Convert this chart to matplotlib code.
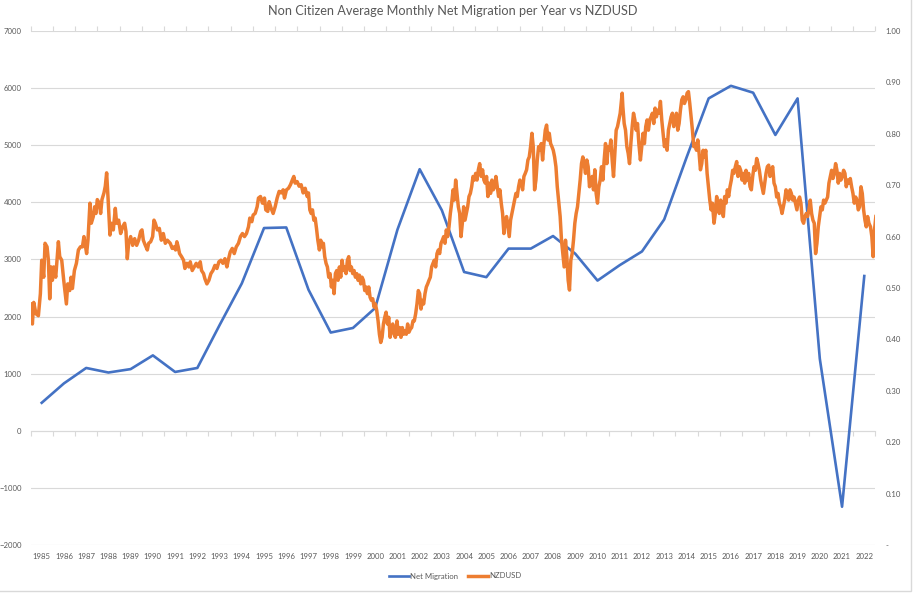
import matplotlib.pyplot as plt
import numpy as np
from matplotlib.patches import Rectangle
from matplotlib.ticker import FuncFormatter

years = [1985, 1986, 1987, 1988, 1989, 1990, 1991, 1992, 1993, 1994,
         1995, 1996, 1997, 1998, 1999, 2000, 2001, 2002, 2003, 2004,
         2005, 2006, 2007, 2008, 2009, 2010, 2011, 2012, 2013, 2014,
         2015, 2016, 2017, 2018, 2019, 2020, 2021, 2022]

net_migration = [490, 830, 1100, 1020, 1080, 1320, 1030, 1100, 1850, 2580,
                 3550, 3560, 2470, 1720, 1800, 2150, 3520, 4580, 3860, 2780,
                 2690, 3190, 3190, 3410, 3100, 2630, 2900, 3140, 3700, 4780,
                 5820, 6040, 5920, 5180, 5820, 1260, -1330, 2710]

# NZDUSD, dates on the year-category scale
nzd_dates = [
    1984.49, 1984.58, 1984.64, 1984.74, 1984.85, 1984.94, 1985.00, 1985.09, 1985.15, 1985.24,
    1985.30, 1985.36, 1985.42, 1985.48, 1985.54, 1985.63, 1985.75, 1985.81, 1985.90, 1985.99,
    1986.11, 1986.17, 1986.26, 1986.32, 1986.38, 1986.47, 1986.56, 1986.65, 1986.74, 1986.83,
    1986.90, 1987.02, 1987.08, 1987.17, 1987.23, 1987.32, 1987.38, 1987.44, 1987.50, 1987.59,
    1987.65, 1987.71, 1987.80, 1987.86, 1987.92, 1987.98, 1988.07, 1988.13, 1988.22, 1988.31,
    1988.37, 1988.46, 1988.55, 1988.64, 1988.73, 1988.79, 1988.85, 1988.91, 1989.00, 1989.09,
    1989.18, 1989.27, 1989.36, 1989.45, 1989.51, 1989.57, 1989.66, 1989.75, 1989.81, 1989.90,
    1989.99, 1990.05, 1990.11, 1990.20, 1990.29, 1990.38, 1990.47, 1990.56, 1990.65,
    1990.78, 1990.87, 1990.96, 1991.02, 1991.08, 1991.14, 1991.20, 1991.29, 1991.38, 1991.44,
    1991.53, 1991.62, 1991.68, 1991.77, 1991.86, 1991.95, 1992.04, 1992.13, 1992.19, 1992.28,
    1992.34, 1992.43, 1992.52, 1992.61, 1992.70, 1992.79, 1992.88, 1992.97, 1993.06, 1993.15,
    1993.24, 1993.33, 1993.39, 1993.48, 1993.57, 1993.66, 1993.75, 1993.85, 1993.94, 1994.03,
    1994.12, 1994.21, 1994.30, 1994.36, 1994.45, 1994.51, 1994.60, 1994.69, 1994.75, 1994.84,
    1994.93, 1995.02, 1995.08, 1995.17, 1995.23, 1995.32, 1995.41, 1995.50, 1995.59, 1995.68,
    1995.77, 1995.86, 1995.92, 1996.01, 1996.10, 1996.19, 1996.28, 1996.34, 1996.40, 1996.49,
    1996.58, 1996.67, 1996.76, 1996.85, 1996.94,
    1997.00, 1997.06, 1997.12, 1997.18, 1997.24, 1997.30, 1997.36, 1997.42, 1997.49, 1997.55,
    1997.61, 1997.67, 1997.73, 1997.79, 1997.85, 1997.91, 1997.97, 1998.03, 1998.09, 1998.15,
    1998.21, 1998.27, 1998.33, 1998.39, 1998.45, 1998.51, 1998.57, 1998.63, 1998.69, 1998.75,
    1998.81, 1998.87, 1998.93, 1998.99, 1999.05, 1999.11, 1999.17, 1999.23, 1999.29, 1999.35,
    1999.41, 1999.47, 1999.53, 1999.59, 1999.65, 1999.71, 1999.77, 1999.83, 1999.89, 1999.95,
    2000.01, 2000.07, 2000.13, 2000.19, 2000.25, 2000.31, 2000.37, 2000.43, 2000.49, 2000.55,
    2000.61, 2000.67, 2000.73, 2000.79, 2000.85, 2000.91, 2000.98, 2001.04, 2001.10, 2001.16,
    2001.22, 2001.28, 2001.34, 2001.40, 2001.46, 2001.52, 2001.58, 2001.64, 2001.70, 2001.76,
    2001.82, 2001.88, 2001.94, 2002.00, 2002.06, 2002.12, 2002.18, 2002.24, 2002.30, 2002.36,
    2002.42, 2002.48, 2002.54, 2002.60, 2002.66, 2002.72, 2002.78, 2002.84, 2002.90, 2002.96,
    2003.02, 2003.08, 2003.14, 2003.20, 2003.26,
    2003.32, 2003.38, 2003.44, 2003.50, 2003.56, 2003.62, 2003.68, 2003.74, 2003.80, 2003.86,
    2003.92, 2003.98, 2004.04, 2004.10, 2004.16, 2004.22, 2004.28, 2004.34, 2004.40, 2004.46,
    2004.52, 2004.58, 2004.64, 2004.70, 2004.77, 2004.83, 2004.89, 2004.95, 2005.01, 2005.07,
    2005.13, 2005.19, 2005.25, 2005.31, 2005.37, 2005.43, 2005.49, 2005.55, 2005.61, 2005.67,
    2005.73, 2005.79, 2005.85, 2005.91, 2005.97, 2006.03, 2006.09, 2006.15, 2006.21, 2006.27,
    2006.33, 2006.39, 2006.45, 2006.51, 2006.57, 2006.63, 2006.69, 2006.75, 2006.81, 2006.87,
    2006.93, 2006.99, 2007.05, 2007.11, 2007.17, 2007.23, 2007.29, 2007.35, 2007.41, 2007.47,
    2007.53, 2007.59, 2007.65, 2007.71, 2007.77, 2007.83, 2007.89, 2007.95, 2008.01, 2008.07,
    2008.13, 2008.19, 2008.25, 2008.32, 2008.38, 2008.44, 2008.50, 2008.56, 2008.62, 2008.68,
    2008.74, 2008.80, 2008.86, 2008.92, 2008.98, 2009.04, 2009.10, 2009.16, 2009.22, 2009.28,
    2009.34, 2009.40, 2009.46, 2009.52, 2009.58,
    2009.64, 2009.70, 2009.76, 2009.82, 2009.88, 2009.94, 2010.00, 2010.06, 2010.12, 2010.18,
    2010.24, 2010.30, 2010.36, 2010.42, 2010.48, 2010.54, 2010.60, 2010.66, 2010.72, 2010.78,
    2010.84, 2010.90, 2010.96, 2011.02, 2011.08, 2011.11, 2011.14, 2011.20, 2011.26, 2011.32,
    2011.38, 2011.44, 2011.50, 2011.56, 2011.62, 2011.68, 2011.74, 2011.80, 2011.86, 2011.93,
    2011.99, 2012.05, 2012.11, 2012.17, 2012.23, 2012.29, 2012.35, 2012.41, 2012.47, 2012.53,
    2012.59, 2012.65, 2012.71, 2012.77, 2012.83, 2012.89, 2012.95, 2013.01, 2013.07, 2013.13,
    2013.19, 2013.25, 2013.31, 2013.37, 2013.43, 2013.49, 2013.55, 2013.61, 2013.67, 2013.73,
    2013.79, 2013.85, 2013.91, 2013.97, 2014.03, 2014.09, 2014.15, 2014.21, 2014.27, 2014.33,
    2014.39, 2014.45, 2014.51, 2014.57, 2014.63, 2014.69, 2014.75, 2014.81, 2014.87, 2014.93,
    2014.99, 2015.05, 2015.11, 2015.17, 2015.24, 2015.30, 2015.36, 2015.42, 2015.48, 2015.54,
    2015.60, 2015.66, 2015.72, 2015.78, 2015.84, 2015.90, 2015.96,
    2016.02, 2016.08, 2016.14, 2016.20, 2016.26, 2016.32, 2016.38, 2016.44, 2016.50, 2016.56,
    2016.62, 2016.68, 2016.74, 2016.80, 2016.86, 2016.92, 2016.98, 2017.04, 2017.10, 2017.16,
    2017.22, 2017.28, 2017.34, 2017.40, 2017.46, 2017.52, 2017.58, 2017.64, 2017.70, 2017.76,
    2017.82, 2017.88, 2017.94, 2018.00, 2018.06, 2018.12, 2018.18, 2018.24, 2018.30, 2018.36,
    2018.42, 2018.48, 2018.54, 2018.60, 2018.66, 2018.72, 2018.78, 2018.84, 2018.90, 2018.97,
    2019.03, 2019.09, 2019.15, 2019.21, 2019.27, 2019.33, 2019.39, 2019.45, 2019.51, 2019.57,
    2019.63, 2019.69, 2019.75, 2019.81, 2019.87, 2019.93, 2019.99, 2020.05, 2020.11, 2020.17,
    2020.23, 2020.29, 2020.35, 2020.41, 2020.47, 2020.53, 2020.59, 2020.65, 2020.71, 2020.77,
    2020.83, 2020.89, 2020.95, 2021.01, 2021.07, 2021.13, 2021.19, 2021.25, 2021.31, 2021.37,
    2021.43, 2021.49, 2021.55, 2021.61, 2021.67, 2021.73, 2021.79, 2021.85, 2021.91, 2021.97,
    2022.03, 2022.09, 2022.15, 2022.21, 2022.28, 2022.34, 2022.40, 2022.46, 2022.52,
]

nzd_rates = [
    0.469, 0.430, 0.472, 0.450, 0.446, 0.489, 0.554, 0.521, 0.587, 0.580,
    0.554, 0.479, 0.541, 0.515, 0.541, 0.521, 0.590, 0.561, 0.554, 0.515,
    0.469, 0.508, 0.495, 0.521, 0.499, 0.534, 0.548, 0.574, 0.580, 0.580,
    0.600, 0.567, 0.593, 0.665, 0.626, 0.639, 0.658, 0.645, 0.672, 0.665,
    0.645, 0.672, 0.685, 0.698, 0.724, 0.678, 0.603, 0.626, 0.613, 0.655,
    0.626, 0.632, 0.606, 0.619, 0.626, 0.610, 0.557, 0.587, 0.600, 0.583,
    0.596, 0.583, 0.593, 0.610, 0.613, 0.593, 0.583, 0.574, 0.587, 0.590,
    0.600, 0.632, 0.626, 0.613, 0.616, 0.593, 0.606, 0.587, 0.593,
    0.587, 0.577, 0.580, 0.574, 0.590, 0.580, 0.567, 0.561, 0.554, 0.538,
    0.548, 0.541, 0.551, 0.534, 0.541, 0.548, 0.541, 0.551, 0.534, 0.528,
    0.518, 0.508, 0.515, 0.528, 0.534, 0.544, 0.538, 0.551, 0.554, 0.548,
    0.557, 0.541, 0.554, 0.570, 0.577, 0.567, 0.580, 0.587, 0.600, 0.606,
    0.600, 0.606, 0.619, 0.636, 0.629, 0.642, 0.645, 0.658, 0.675, 0.678,
    0.665, 0.675, 0.652, 0.649, 0.668, 0.655, 0.645, 0.658, 0.675, 0.688,
    0.685, 0.691, 0.675, 0.691, 0.694, 0.701, 0.711, 0.717, 0.704, 0.707,
    0.698, 0.701, 0.685, 0.694, 0.678,
    0.685, 0.652, 0.645, 0.652, 0.632, 0.636, 0.616, 0.593, 0.574, 0.593,
    0.580, 0.587, 0.561, 0.548, 0.541, 0.521, 0.528, 0.502, 0.515, 0.489,
    0.528, 0.534, 0.515, 0.541, 0.521, 0.554, 0.534, 0.541, 0.528, 0.554,
    0.561, 0.534, 0.541, 0.528, 0.534, 0.521, 0.528, 0.515, 0.525, 0.508,
    0.521, 0.515, 0.495, 0.502, 0.489, 0.502, 0.482, 0.476, 0.479, 0.463,
    0.469, 0.456, 0.436, 0.410, 0.394, 0.404, 0.430, 0.443, 0.453, 0.430,
    0.443, 0.404, 0.423, 0.430, 0.410, 0.404, 0.436, 0.410, 0.423, 0.404,
    0.423, 0.410, 0.417, 0.410, 0.430, 0.414, 0.420, 0.423, 0.436, 0.436,
    0.450, 0.469, 0.495, 0.489, 0.459, 0.476, 0.469, 0.489, 0.502, 0.508,
    0.515, 0.521, 0.541, 0.548, 0.554, 0.541, 0.567, 0.574, 0.567, 0.587,
    0.593, 0.600, 0.587, 0.613, 0.600,
    0.619, 0.645, 0.665, 0.691, 0.671, 0.710, 0.684, 0.658, 0.645, 0.600,
    0.626, 0.658, 0.632, 0.645, 0.658, 0.678, 0.684, 0.697, 0.717, 0.710,
    0.723, 0.710, 0.730, 0.742, 0.717, 0.730, 0.710, 0.704, 0.717, 0.678,
    0.704, 0.684, 0.710, 0.691, 0.697, 0.717, 0.697, 0.678, 0.691, 0.665,
    0.645, 0.606, 0.632, 0.639, 0.619, 0.600, 0.632, 0.645, 0.658, 0.671,
    0.684, 0.678, 0.697, 0.710, 0.704, 0.691, 0.717, 0.723, 0.730, 0.749,
    0.755, 0.775, 0.801, 0.775, 0.691, 0.710, 0.749, 0.775, 0.768, 0.781,
    0.749, 0.781, 0.807, 0.817, 0.788, 0.801, 0.781, 0.775, 0.768, 0.755,
    0.736, 0.697, 0.671, 0.639, 0.593, 0.567, 0.541, 0.593, 0.561, 0.515,
    0.496, 0.554, 0.567, 0.593, 0.626, 0.645, 0.658, 0.684, 0.710, 0.742,
    0.755, 0.742, 0.723, 0.749, 0.736,
    0.697, 0.710, 0.717, 0.691, 0.730, 0.684, 0.665, 0.697, 0.710, 0.736,
    0.710, 0.749, 0.781, 0.742, 0.775, 0.768, 0.788, 0.749, 0.717, 0.762,
    0.807, 0.814, 0.827, 0.840, 0.866, 0.879, 0.853, 0.820, 0.807, 0.775,
    0.762, 0.742, 0.781, 0.814, 0.840, 0.827, 0.807, 0.820, 0.781, 0.749,
    0.775, 0.801, 0.781, 0.814, 0.827, 0.807, 0.827, 0.833, 0.840, 0.820,
    0.850, 0.833, 0.846, 0.840, 0.863, 0.827, 0.801, 0.775, 0.788, 0.768,
    0.807, 0.820, 0.833, 0.840, 0.814, 0.827, 0.840, 0.807, 0.820, 0.846,
    0.866, 0.872, 0.859, 0.866, 0.879, 0.882, 0.859, 0.833, 0.807, 0.775,
    0.781, 0.768, 0.788, 0.762, 0.730, 0.742, 0.768, 0.755, 0.768, 0.723,
    0.697, 0.671, 0.652, 0.665, 0.626, 0.645, 0.678, 0.658, 0.645, 0.671,
    0.658, 0.639, 0.678, 0.665, 0.691, 0.678, 0.697,
    0.710, 0.729, 0.723, 0.736, 0.746, 0.717, 0.736, 0.729, 0.710, 0.723,
    0.704, 0.729, 0.710, 0.723, 0.697, 0.691, 0.717, 0.736, 0.729, 0.752,
    0.742, 0.729, 0.710, 0.697, 0.684, 0.704, 0.723, 0.736, 0.739, 0.717,
    0.729, 0.736, 0.704, 0.697, 0.677, 0.684, 0.665, 0.658, 0.645, 0.658,
    0.671, 0.691, 0.684, 0.671, 0.691, 0.684, 0.671, 0.677, 0.665, 0.652,
    0.671, 0.677, 0.665, 0.632, 0.626, 0.639, 0.645, 0.639, 0.652, 0.671,
    0.645, 0.632, 0.626, 0.567, 0.587, 0.619, 0.639, 0.658, 0.652, 0.671,
    0.665, 0.671, 0.677, 0.704, 0.717, 0.729, 0.713, 0.723, 0.742, 0.729,
    0.704, 0.723, 0.710, 0.717, 0.729, 0.723, 0.697, 0.710, 0.704, 0.713,
    0.697, 0.684, 0.665, 0.677, 0.671, 0.652, 0.658, 0.697, 0.684, 0.652,
    0.632, 0.619, 0.639, 0.626, 0.619, 0.600, 0.561, 0.613, 0.639,
]

left_ticks = [-2000, -1000, 0, 1000, 2000, 3000, 4000, 5000, 6000, 7000]
right_ticks = [0.0, 0.1, 0.2, 0.3, 0.4, 0.5, 0.6, 0.7, 0.8, 0.9, 1.0]

plt.rcParams['font.family'] = ['Lato', 'DejaVu Sans']
grey_text = '#595959'
grid_col = '#d9d9d9'

fig = plt.figure(figsize=(9.16, 5.96), dpi=100)
W, H = 916, 596
ax1 = fig.add_axes([30.6 / W, 1 - 545 / H, 844.8 / W, 514 / H])

x = np.arange(len(years))
l1, = ax1.plot(x, net_migration, color='#4472C4', lw=1.9, solid_joinstyle='round')
ax1.set_xlim(-0.5, len(years) - 0.5)
ax1.set_ylim(-2000, 7000)
ax1.set_yticks(left_ticks)
ax1.set_xticks(x)
ax1.set_xticklabels([str(y) for y in years])
ax1.grid(axis='y', color=grid_col, lw=0.8)
ax1.set_axisbelow(True)
for s in ax1.spines.values():
    s.set_visible(False)
ax1.tick_params(axis='x', length=0, pad=5.5, labelsize=5.6, labelcolor=grey_text)
ax1.tick_params(axis='y', length=0, pad=6.5, labelsize=5.6, labelcolor=grey_text)

# category axis crossing at zero, with tick marks between categories
bounds = np.arange(-0.5, len(years), 1.0)
zero_ax = ax1.secondary_xaxis(2 / 9)
zero_ax.set_xticks(bounds)
zero_ax.tick_params(length=3.5, width=0.8, color=grid_col, labelbottom=False, labeltop=False)
zero_ax.spines['bottom'].set_color(grid_col)
zero_ax.spines['bottom'].set_linewidth(0.8)

top_ax = ax1.secondary_xaxis('top')
top_ax.set_xticks(bounds)
top_ax.tick_params(length=3.5, width=0.8, color=grid_col, labeltop=False)
top_ax.spines['top'].set_visible(False)

ax2 = ax1.twinx()
l2, = ax2.plot(np.array(nzd_dates) - years[0], nzd_rates, color='#ED7D31', lw=2.5,
               solid_joinstyle='round')
ax2.set_ylim(0, 1.0)
ax2.set_yticks(right_ticks)
ax2.yaxis.set_major_formatter(FuncFormatter(lambda v, p: '-' if abs(v) < 1e-9 else f'{v:.2f}'))
for s in ax2.spines.values():
    s.set_visible(False)
ax2.tick_params(axis='y', length=0, pad=7.5, labelsize=5.6, labelcolor=grey_text)

fig.text(453 / W, 1 - 11 / H, 'Non Citizen Average Monthly Net Migration per Year vs NZDUSD',
         ha='center', va='center', fontsize=9.2, color=grey_text)

fig.legend([l1, l2], ['Net Migration', 'NZDUSD'], loc='center',
           bbox_to_anchor=(455 / W, 1 - 576 / H), ncol=2, frameon=False,
           fontsize=5.6, labelcolor=grey_text, handlelength=2.6,
           handletextpad=0.15, columnspacing=1.2)

fig.patches.append(Rectangle((-0.01, 1 - 590.5 / H), 910.5 / W + 0.01, 1.1,
                             transform=fig.transFigure, fill=False,
                             edgecolor=grid_col, lw=1))

fig.savefig('out.png', dpi=100)
